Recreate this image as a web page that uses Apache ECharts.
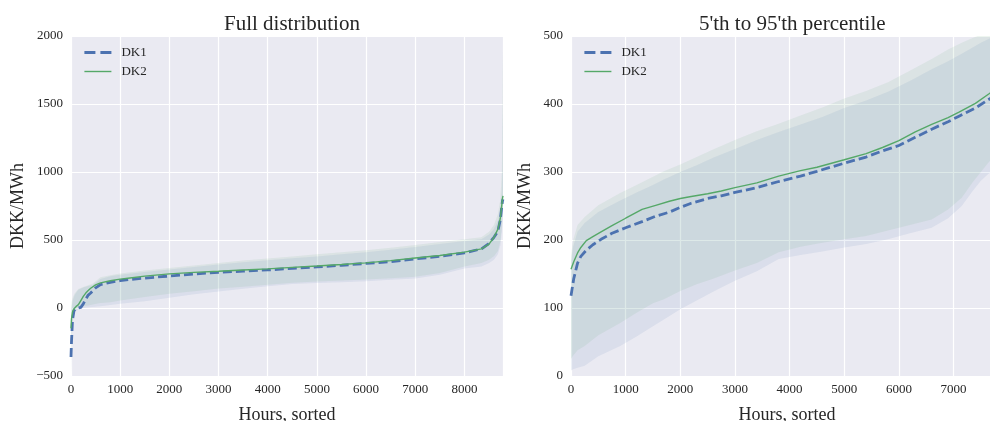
<!DOCTYPE html>
<html>
<head>
<meta charset="utf-8">
<script src="https://cdn.jsdelivr.net/npm/echarts@6/dist/echarts.min.js"></script>
<style>
  html, body { margin: 0; padding: 0; background: #fff; }
  #chart { width: 990px; height: 421px; }
</style>
</head>
<body>
<div id="chart"></div>
<script>
// ---- full distribution (left) ----
const fullHours = [0, 10, 30, 60, 100, 150, 200, 250, 300, 350, 400, 439, 500, 600, 800, 1000, 1200, 1500, 2000, 2500, 3000, 3500, 4000, 4500, 5000, 5500, 6000, 6500, 7000, 7500, 8000, 8345, 8500, 8600, 8680, 8730, 8760, 8775, 8784];
const fullDK1 = [-360, -250, -90, -20, -5, 0, 5, 30, 65, 95, 110, 118, 148, 172, 189, 201, 210, 220, 235, 250, 262, 271, 280, 291, 302, 314, 328, 341, 361, 380, 405, 435, 475, 520, 565, 650, 750, 790, 800];
const fullDK2 = [-150, -80, -30, -5, 10, 25, 55, 85, 110, 128, 145, 157, 170, 185, 200, 212, 221, 234, 251, 262, 270, 279, 288, 299, 309, 320, 332, 348, 368, 386, 411, 435, 470, 520, 580, 660, 760, 810, 825];

const fullBandHours = [0, 5, 15, 40, 80, 150, 250, 350, 439, 600, 800, 1000, 1500, 2000, 2500, 3000, 3500, 4000, 4500, 5000, 5500, 6000, 6500, 7000, 7500, 8000, 8345, 8500, 8600, 8680, 8730, 8760, 8772, 8778, 8784];
const fullDK1Low = [-500, -420, -250, -90, -30, -10, 0, 5, 8, 12, 22, 31, 50, 75, 101, 122, 142, 160, 176, 183, 189, 196, 207, 217, 244, 290, 305, 330, 355, 395, 460, 560, 640, 720, 760];
const fullDK1High = [-60, -20, 20, 60, 100, 135, 150, 162, 170, 214, 233, 244, 264, 283, 302, 320, 336, 352, 366, 379, 396, 410, 428, 449, 470, 493, 505, 540, 580, 640, 720, 850, 1050, 1350, 1550];
const fullDK2Low = [-400, -300, -150, -50, -10, 5, 12, 18, 25, 37, 43, 55, 80, 105, 123, 143, 157, 171, 186, 195, 202, 209, 219, 229, 258, 305, 330, 355, 380, 420, 490, 590, 660, 730, 780];
const fullDK2High = [0, 20, 50, 80, 110, 140, 155, 168, 178, 226, 240, 253, 275, 295, 313, 331, 349, 364, 378, 395, 410, 424, 443, 464, 486, 506, 520, 560, 610, 690, 800, 1000, 1400, 1750, 1900];

// ---- 5th to 95th percentile (right) ----
const pctHours = [0, 50, 120, 180, 280, 400, 550, 750, 1000, 1300, 1550, 1800, 2000, 2200, 2500, 2750, 3000, 3400, 3800, 4200, 4500, 5000, 5400, 5700, 6000, 6300, 6600, 6900, 7100, 7400, 7650, 7905];
const pctDK1 = [118, 143, 166, 176, 185, 193, 201, 210, 218, 227, 235, 241, 248, 254, 261, 265, 270, 277, 286, 294, 301, 313, 322, 331, 339, 351, 363, 374, 382, 394, 407, 420];
const pctDK2 = [157, 168, 181, 189, 199, 205, 212, 221, 232, 245, 251, 257, 261, 264, 268, 272, 277, 284, 294, 302, 307, 318, 327, 336, 346, 359, 370, 380, 388, 401, 415, 430];

const pctBandHours = [0, 40, 120, 250, 500, 900, 1200, 1500, 1700, 2000, 2300, 2600, 3000, 3400, 3800, 4200, 4600, 5000, 5400, 5800, 6200, 6600, 6900, 7150, 7350, 7500, 7650, 7905];
const pctDK1Low = [8, 10, 12, 15, 29, 44, 58, 73, 83, 98, 111, 124, 140, 154, 172, 178, 183, 189, 194, 201, 210, 218, 232, 250, 272, 287, 298, 305];
const pctDK1High = [170, 190, 212, 225, 241, 258, 270, 281, 289, 300, 310, 321, 334, 347, 359, 370, 381, 394, 405, 418, 434, 451, 463, 474, 483, 490, 496, 505];
const pctDK2Low = [25, 30, 38, 44, 60, 78, 93, 107, 113, 125, 135, 143, 155, 166, 182, 190, 196, 201, 206, 214, 222, 230, 245, 262, 285, 300, 315, 330];
const pctDK2High = [178, 200, 222, 234, 251, 269, 281, 293, 301, 311, 322, 333, 347, 360, 371, 383, 395, 408, 419, 432, 449, 466, 480, 490, 497, 502, 510, 520];

const FONT = "Liberation Serif";
const TEXT = "#262626";
const BLUE = "#4C72B0";
const GREEN = "#55A868";

function pairs(xs, ys) {
  return xs.map((x, i) => [x, ys[i]]);
}

// shaded range: one polygon (upper edge forward, lower edge back) through the axes
function band(name, idx, xs, lo, hi, color) {
  return {
    name: name, type: "custom", xAxisIndex: idx, yAxisIndex: idx,
    silent: true, clip: true, z: 1,
    data: xs.map((x, i) => [x, lo[i], hi[i]]),
    encode: { x: 0, y: [1, 2] },
    renderItem: function (params, api) {
      if (params.dataIndex !== 0) return;
      const top = xs.map((x, i) => api.coord([x, hi[i]]));
      const bottom = xs.map((x, i) => api.coord([x, lo[i]])).reverse();
      const cs = params.coordSys;
      return {
        type: "polygon",
        shape: { points: top.concat(bottom) },
        style: { fill: color, opacity: 0.1 },
        clipPath: { type: "rect", shape: { x: cs.x, y: cs.y, width: cs.width, height: cs.height } },
      };
    },
  };
}

function line(name, idx, xs, ys, color, width, type) {
  return {
    name: name, type: "line", xAxisIndex: idx, yAxisIndex: idx,
    data: pairs(xs, ys), symbol: "none", z: 3,
    lineStyle: { color: color, width: width, type: type },
    itemStyle: { color: color, opacity: 0 },
  };
}

function xAx(idx, max) {
  return {
    gridIndex: idx, type: "value", min: 0, max: max, interval: 1000,
    name: "Hours, sorted", nameLocation: "middle", nameGap: 30,
    nameTextStyle: { fontFamily: FONT, fontSize: 18, color: TEXT },
    axisLine: { show: false }, axisTick: { show: false },
    axisLabel: {
      fontFamily: FONT, fontSize: 13, color: TEXT, margin: 7,
      formatter: (v) => (v % 1000 === 0 ? String(v) : ""),
    },
    splitLine: { lineStyle: { color: "#ffffff", width: 1.2 } },
  };
}

function yAx(idx, min, max, interval, gap) {
  return {
    gridIndex: idx, type: "value", min: min, max: max, interval: interval,
    name: "DKK/MWh", nameLocation: "middle", nameGap: gap,
    nameTextStyle: { fontFamily: FONT, fontSize: 18, color: TEXT },
    axisLine: { show: false }, axisTick: { show: false },
    axisLabel: {
      fontFamily: FONT, fontSize: 13, color: TEXT, margin: 8,
      formatter: (v) => String(v).replace("-", "\u2212"),
    },
    splitLine: { lineStyle: { color: "#ffffff", width: 1.2 } },
  };
}

function legend(left) {
  return {
    left: left, top: 46, orient: "vertical", padding: 0,
    data: [
      { name: "DK1", lineStyle: { width: 2.8, type: [11, 5] } },
      { name: "DK2", lineStyle: { width: 1.4 } },
    ],
    itemWidth: 27, itemHeight: 14, itemGap: 6,
    itemStyle: { opacity: 0 },
    textStyle: { fontFamily: FONT, fontSize: 13, color: TEXT, padding: [0, 0, 0, 5] },
  };
}

const chart = echarts.init(document.getElementById("chart"));

const option = {
  animation: false,
  backgroundColor: "#ffffff",
  title: [
    { text: "Full distribution", left: 219, top: 9,
      textStyle: { fontFamily: FONT, fontSize: 21, fontWeight: "normal", color: TEXT } },
    { text: "5'th to 95'th percentile", left: 694, top: 9,
      textStyle: { fontFamily: FONT, fontSize: 21, fontWeight: "normal", color: TEXT } },
  ],
  legend: [legend(83), legend(583)],
  grid: [
    { left: 71, top: 36, width: 432, height: 340, show: true, backgroundColor: "#EAEAF2",
      borderWidth: 0, containLabel: false, outerBoundsMode: "none" },
    // right panel runs past the canvas edge, as in the cropped original
    { left: 571, top: 36, width: 432, height: 340, show: true, backgroundColor: "#EAEAF2",
      borderWidth: 0, containLabel: false, outerBoundsMode: "none" },
  ],
  xAxis: [xAx(0, 8784), xAx(1, 7905)],
  yAxis: [yAx(0, -500, 2000, 500, 44), yAx(1, 0, 500, 100, 37)],
  series: [
    band("DK1 range", 0, fullBandHours, fullDK1Low, fullDK1High, BLUE),
    band("DK2 range", 0, fullBandHours, fullDK2Low, fullDK2High, GREEN),
    line("DK1", 0, fullHours, fullDK1, BLUE, 2.8, [9, 4]),
    line("DK2", 0, fullHours, fullDK2, GREEN, 1.4, "solid"),
    band("DK1 range", 1, pctBandHours, pctDK1Low, pctDK1High, BLUE),
    band("DK2 range", 1, pctBandHours, pctDK2Low, pctDK2High, GREEN),
    line("DK1", 1, pctHours, pctDK1, BLUE, 2.8, [9, 4]),
    line("DK2", 1, pctHours, pctDK2, GREEN, 1.4, "solid"),
  ],
};

chart.setOption(option);
</script>
</body>
</html>
